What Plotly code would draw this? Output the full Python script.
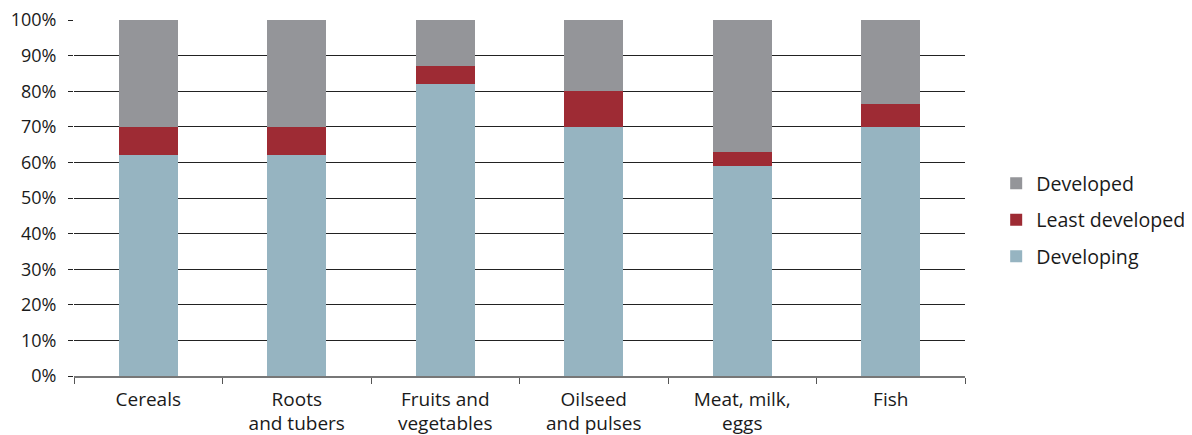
import plotly.graph_objects as go

categories = ["Cereals", "Roots<br>and tubers", "Fruits and<br>vegetables", "Oilseed<br>and pulses", "Meat, milk,<br>eggs", "Fish"]
developing = [62, 62, 82, 70, 59, 70]
least_developed = [8, 8, 5, 10, 4, 6.5]
developed = [30, 30, 13, 20, 37, 23.5]
tick_vals = [0, 10, 20, 30, 40, 50, 60, 70, 80, 90, 100]
tick_text = [f"{v}%" for v in tick_vals]

font = "Open Sans"
fig = go.Figure()
fig.add_trace(go.Bar(x=categories, y=developing, name="Developing", marker_color="#96B4C1",
                     marker_line_width=0, legendgroup="c", legendrank=3))
fig.add_trace(go.Bar(x=categories, y=least_developed, name="Least developed", marker_color="#9E2B34",
                     marker_line_width=0, legendgroup="b", legendrank=2))
fig.add_trace(go.Bar(x=categories, y=developed, name="Developed", marker_color="#949599",
                     marker_line_width=0, legendgroup="a", legendrank=1))

fig.update_layout(
    width=1184, height=427,
    barmode="stack", bargap=0.6,
    margin=dict(l=66, r=227, t=12, b=59, autoexpand=False),
    plot_bgcolor="white", paper_bgcolor="white",
    font=dict(family=font, size=19, color="#1a1a1a"),
    legend=dict(x=1.035, y=0.438, xanchor="left", yanchor="middle", traceorder="grouped",
                font=dict(size=19.6), itemsizing="constant", tracegroupgap=8, itemwidth=30),
    xaxis=dict(showgrid=False, ticks="outside", tickson="boundaries", ticklen=6, tickcolor="#555",
               showline=True, linecolor="#777", linewidth=1.5, tickfont=dict(size=19),
               automargin=False, ticklabelstandoff=5),
    yaxis=dict(range=[0, 100], tickvals=tick_vals, ticktext=tick_text, showgrid=True,
               gridcolor="#222", gridwidth=1, ticks="outside", ticklen=5, tickcolor="#222",
               zeroline=False, showline=False, tickfont=dict(size=18),
               automargin=False, ticklabelstandoff=8, ticklabeloverflow="allow"),
)
fig.write_html("out.html")
